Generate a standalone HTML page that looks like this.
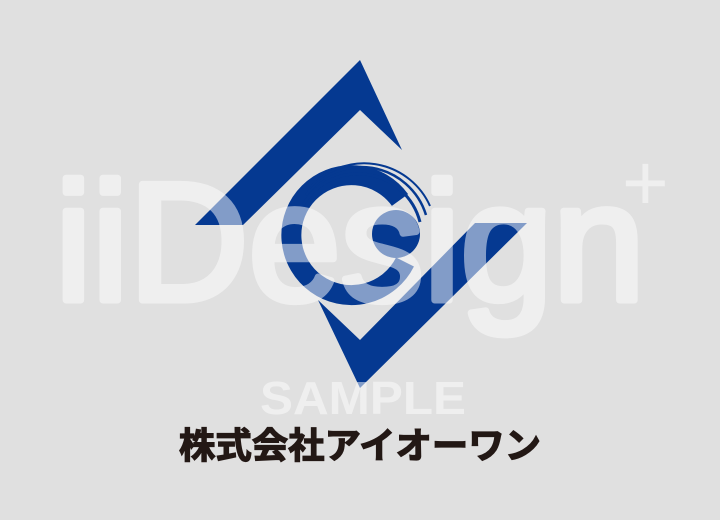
<!DOCTYPE html>
<html><head><meta charset="utf-8"><style>
html,body{margin:0;padding:0;background:#e0e0e0;}
#root{position:relative;width:720px;height:520px;overflow:hidden;background:#e0e0e0;}
svg{position:absolute;left:0;top:0;}
</style></head><body>
<div id="root">
<svg width="720" height="520" viewBox="0 0 720 520">
  <polygon points="360,60 402,150 360,110 243,225 195,225" fill="#053991"/>
  <polygon points="318,300 360,340 475,223 527,223 360,388" fill="#053991"/>
  <g fill="none" stroke="#053991">
    <path d="M 400 200 A 60 60 0 1 0 405 262" stroke-width="20"/>
    <path d="M 306 195 A 68 68 0 0 1 426 215" stroke-width="2.5"/>
    <path d="M 310 188 A 72 72 0 0 1 430 206" stroke-width="2"/>
    <path d="M 303 205 A 64 64 0 0 1 420 222" stroke-width="3"/>
  </g>
  <circle cx="396" cy="234" r="24" fill="#053991"/>
  <g opacity="0.5">
    <text x="55" y="300" font-family="Liberation Sans, sans-serif" font-size="168" fill="#ffffff" stroke="#ffffff" stroke-width="7" stroke-linejoin="round" textLength="590" lengthAdjust="spacingAndGlyphs">iiDesign</text>
    <text x="622" y="210" font-family="Liberation Sans, sans-serif" font-size="80" fill="#ffffff">+</text>
    <text x="363" y="414" text-anchor="middle" font-family="Liberation Sans, sans-serif" font-weight="bold" font-size="46" fill="#ffffff" textLength="206" lengthAdjust="spacingAndGlyphs">SAMPLE</text>
  </g>
  <text x="360" y="458" text-anchor="middle" font-family="Liberation Sans, 'Noto Sans CJK JP', sans-serif" font-weight="bold" font-size="36" fill="#231815" stroke="#231815" stroke-width="1.2" textLength="362" lengthAdjust="spacingAndGlyphs">株式会社アイオーワン</text>
</svg>
</div>
</body></html>
